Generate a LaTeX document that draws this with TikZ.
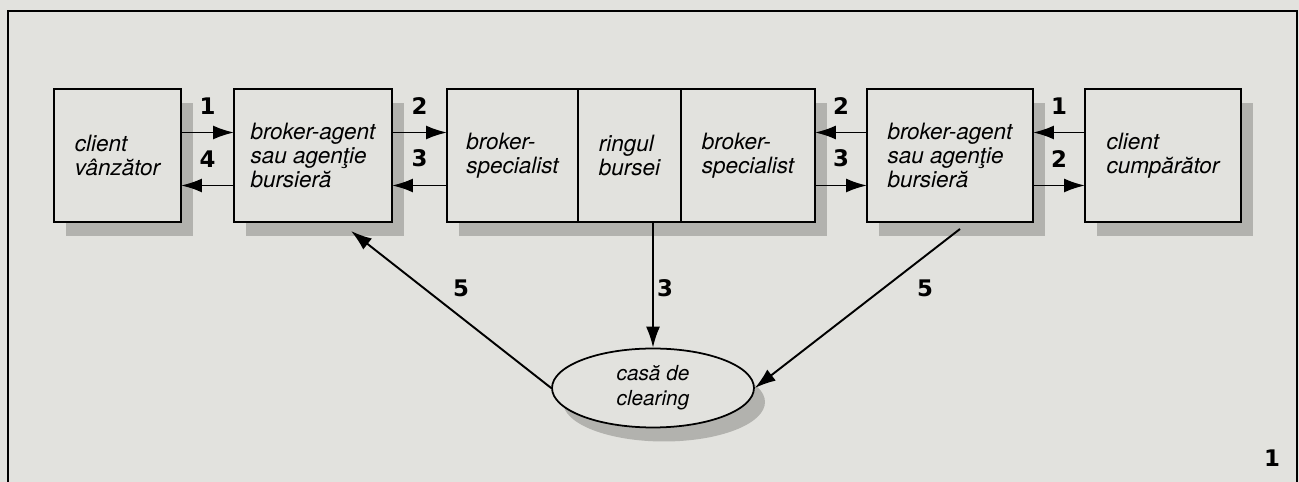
\documentclass[tikz,border=0pt]{standalone}
\usepackage{fontspec}
\setmainfont{TeX Gyre Heros}
\newfontfamily\heavyfont{DejaVu Sans}
\usetikzlibrary{arrows.meta,positioning,calc,backgrounds,shapes.geometric}
\definecolor{paper}{RGB}{226,226,222}
\definecolor{shadowgray}{RGB}{178,178,174}

\begin{document}
\begin{tikzpicture}[
    x=0.02cm, y=-0.02cm,
    box/.style={
        draw,
        line width=1.2pt,
        fill=paper,
        align=left,
        font=\fontsize{12.8}{13.9}\selectfont\itshape,
        minimum height=2.66cm,
        inner sep=0pt,
        outer sep=0pt
    },
    num/.style={font=\fontsize{13}{13}\selectfont\heavyfont\bfseries, inner sep=0pt},
    edge/.style={-{Latex[length=4.2mm,width=2.8mm]}, line width=1.1pt},
    node distance=0pt
]
\useasboundingbox (0,0) rectangle (1299,482);
\draw[line width=1pt] (8,11) rectangle (1297,520);

% selling side
\node[box, minimum width=2.54cm] (cv) at (117.5,155.5) {client\\vânzător};
\node[box, minimum width=3.16cm] (bal) at (313,155.5) {broker-agent\\sau agenţie\\bursieră};

% trading floor
\node[box, minimum width=2.62cm] (spl) at (512.5,155.5) {broker-\\specialist};
\node[box, minimum width=2.06cm, right=of spl] (ring) {ringul\\bursei};
\node[box, minimum width=2.68cm, right=of ring] (spr) {broker-\\specialist};

% buying side
\node[box, minimum width=3.32cm] (bar) at (950,155.5) {broker-agent\\sau agenţie\\bursieră};
\node[box, minimum width=3.12cm] (cc) at (1163,155.5) {client\\cumpărător};

\node[draw, ellipse, line width=1pt, fill=paper, inner sep=0pt,
      minimum width=4.04cm, minimum height=1.58cm,
      font=\fontsize{11.8}{14}\selectfont\itshape, align=center] (clr) at (653,388) {casă de\\clearing};

\begin{scope}[on background layer]
\fill[paper] (0,0) rectangle (1299,482);
\foreach \n in {cv,bal,bar,cc}
    \fill[shadowgray] ($(\n.south west)+(12,14)$) rectangle ($(\n.north east)+(12,14)$);
\fill[shadowgray] ($(spl.south west)+(12,14)$) rectangle ($(spr.north east)+(12,14)$);
\fill[shadowgray] ($(clr.center)+(11,14)$) ellipse [x radius=2.02cm, y radius=0.79cm];
\end{scope}

\draw[edge] ([yshift=0.46cm]cv.east) -- ([yshift=0.46cm]bal.west) node[num, midway, above=0.35cm] (n1a) {1};
\draw[edge] ([yshift=-0.6cm]bal.west) -- ([yshift=-0.6cm]cv.east) node[num, midway, above=0.35cm] (n4) {4};
\draw[edge] ([yshift=0.46cm]bal.east) -- ([yshift=0.46cm]spl.west) node[num, midway, above=0.35cm] (n2a) {2};
\draw[edge] ([yshift=-0.6cm]spl.west) -- ([yshift=-0.6cm]bal.east) node[num, midway, above=0.35cm] (n3a) {3};
\draw[edge] ([yshift=0.46cm]bar.west) -- ([yshift=0.46cm]spr.east) node[num, midway, above=0.35cm] (n2b) {2};
\draw[edge] ([yshift=-0.6cm]spr.east) -- ([yshift=-0.6cm]bar.west) node[num, midway, above=0.35cm] (n3b) {3};
\draw[edge] ([yshift=0.46cm]cc.west) -- ([yshift=0.46cm]bar.east) node[num, midway, above=0.35cm] (n1b) {1};
\draw[edge] ([yshift=-0.6cm]bar.east) -- ([yshift=-0.6cm]cc.west) node[num, midway, above=0.35cm] (n2c) {2};

\draw[edge] (clr.north |- ring.south) -- (clr.north);
\draw[edge] (clr.west) -- ($(bal.south)+(38,9)$);
\draw[edge] ($(bar.south)+(10,7)$) -- (clr.east);

\node[num] (n5a) at (461,288) {5};
\node[num] (n3c) at (665,288) {3};
\node[num] (n5b) at (925,288) {5};
\node[num] (fig) at (1272,458) {1};
\end{tikzpicture}
\end{document}
